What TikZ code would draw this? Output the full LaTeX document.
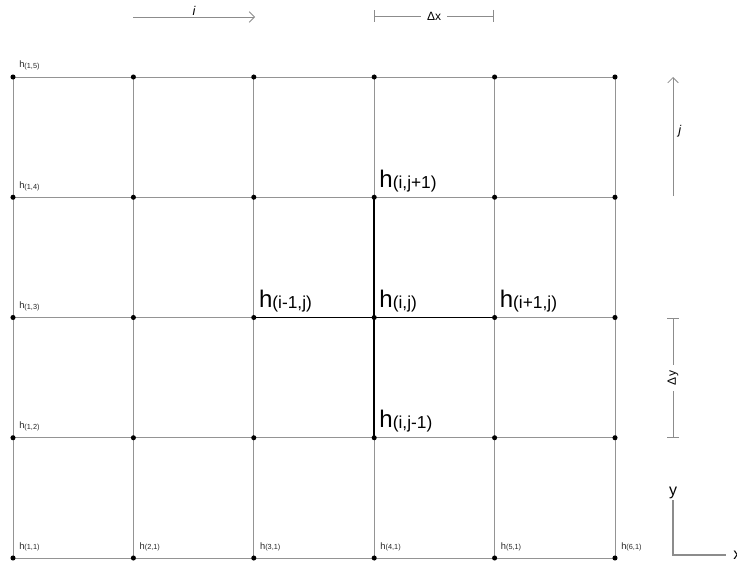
\documentclass[tikz,border=0pt]{standalone}
\usepackage{fontspec}
\setmainfont{Liberation Sans}
\usetikzlibrary{arrows.meta}

\newcommand{\hbig}[1]{{\fontsize{18}{20}\selectfont h}\raisebox{-0.8pt}{\fontsize{13}{15}\selectfont #1}}
\newcommand{\hsmall}[1]{{\fontsize{7}{8}\selectfont h}\raisebox{-0.6pt}{\fontsize{5.5}{6}\selectfont #1}}

\tikzset{
  gridline/.style={draw=black!42, line width=0.6pt},
  heavy/.style={draw=black, line width=1.4pt},
  dimline/.style={draw=black!45, line width=0.6pt},
  smalllab/.style={anchor=base west, inner sep=0pt, text=black!85},
  biglab/.style={anchor=base west, inner sep=0pt},
  dimlab/.style={fill=white, inner sep=4.2pt, font=\fontsize{9}{10}\selectfont},
}

\begin{document}
\begin{tikzpicture}[x=0.75pt, y=-0.75pt, >={Straight Barb[length=4pt,width=8pt]}]
  \useasboundingbox (0,0) rectangle (737,563);
  % grid points
  \foreach \i in {1,...,6}
    \foreach \j in {1,...,5}
      \coordinate (p\i\j) at ({13+120.4*(\i-1)}, {558-120.25*(\j-1)});
  % grid lines
  \foreach \j in {1,...,5} \draw[gridline] (p1\j) -- (p6\j);
  \foreach \i in {1,...,6} \draw[gridline] (p\i1) -- (p\i5);
  % stencil
  \draw[heavy] (p33) -- (p53);
  \draw[heavy] (p44) -- (p42);
  % points
  \foreach \i in {1,...,6}
    \foreach \j in {1,...,5}
      \fill (p\i\j) circle (1.9pt);
  % small labels
  \foreach \j in {2,...,5}
    \node[smalllab] (l1\j) at ([shift={(6,-9)}]p1\j) {\hsmall{(1,\j)}};
  \foreach \i in {1,...,6}
    \node[smalllab] (l\i1) at ([shift={(6,-9)}]p\i1) {\hsmall{(\i,1)}};
  % stencil labels
  \node[biglab] (hN) at ([shift={(5,-10)}]p44) {\hbig{(i,j+1)}};
  \node[biglab] (hW) at ([shift={(5,-10)}]p33) {\hbig{(i-1,j)}};
  \node[biglab] (hC) at ([shift={(5,-10)}]p43) {\hbig{(i,j)}};
  \node[biglab] (hE) at ([shift={(5,-10)}]p53) {\hbig{(i+1,j)}};
  \node[biglab] (hS) at ([shift={(5,-10)}]p42) {\hbig{(i,j-1)}};
  % i direction
  \coordinate (ia) at (133,17);
  \coordinate (ib) at (255,17);
  \draw[dimline, ->] (ia) -- (ib) node[midway, above=1pt, inner sep=0pt] (ilab) {\fontsize{9.5}{10}\selectfont\itshape i};
  % delta x
  \coordinate (dxa) at (374,16);
  \coordinate (dxb) at (494,16);
  \draw[dimline, {Bar[width=9pt]}-{Bar[width=9pt]}] (dxa) -- (dxb) node[midway, dimlab] (dxlab) {Δx};
  % j direction
  \coordinate (ja) at (673,196);
  \coordinate (jb) at (673,77);
  \draw[dimline, ->] (ja) -- (jb);
  \node[anchor=west, inner sep=0pt] (jlab) at (678,131) {\fontsize{9.5}{10}\selectfont\itshape j};
  % delta y
  \coordinate (dya) at (673,318);
  \coordinate (dyb) at (673,438);
  \draw[dimline, {Bar[width=9pt]}-{Bar[width=9pt]}] (dya) -- (dyb) node[midway, dimlab, rotate=90] (dylab) {Δy};
  % axes
  \coordinate (ax0) at (673,555);
  \coordinate (axy) at (673,500);
  \coordinate (axx) at (726,555);
  \draw[dimline, line width=0.9pt] (axy) -- (ax0) -- (axx);
  \node[anchor=south, inner sep=1pt] (ylab) at (axy) {\fontsize{12}{13}\selectfont y};
  \node[anchor=base west, inner sep=0pt] (xlab) at (733,559) {\fontsize{12}{13}\selectfont x};
\end{tikzpicture}
\end{document}
